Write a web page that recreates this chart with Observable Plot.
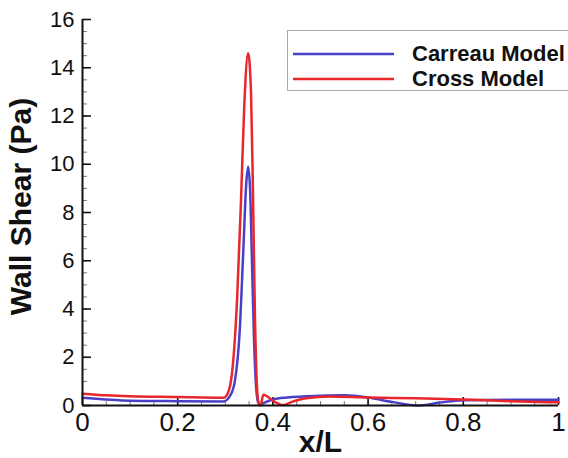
<!DOCTYPE html>
<html>
<head>
<meta charset="utf-8">
<script src="https://cdn.jsdelivr.net/npm/d3@7"></script>
<script src="https://cdn.jsdelivr.net/npm/@observablehq/plot@0.6"></script>
<style>
  html, body { margin: 0; padding: 0; background: #fff; overflow: hidden; }
  #wrap { position: relative; width: 568px; height: 458px; }
  #legend { position: absolute; left: 287px; top: 30px; width: 300px; height: 61px;
    border: 1.5px solid #aaa; box-sizing: border-box; background: #fff;
    font-family: "Liberation Sans", Arial, sans-serif; font-weight: bold; font-size: 22px; color: #111; }
  .row { position: absolute; left: 0; display: flex; align-items: center; }
  .row svg { margin-left: 5px; }
  .row span { margin-left: 18px; }
</style>
</head>
<body>
<div id="wrap"></div>
<script>
const seriesNames = ["Carreau Model", "Cross Model"];
const seriesColors = ["#4a40c8", "#e8262b"];

const carreauX = [0, 0.05, 0.1, 0.2, 0.296, 0.31, 0.32, 0.33, 0.338, 0.344, 0.348, 0.352, 0.356, 0.36, 0.364, 0.368, 0.372, 0.38, 0.40, 0.43, 0.5, 0.55, 0.6, 0.65, 0.705, 0.75, 0.8, 0.9, 1.0];
const carreauY = [0.32, 0.25, 0.2, 0.18, 0.17, 0.4, 1.0, 3.0, 6.5, 9.2, 9.9, 9.0, 6.0, 3.0, 1.0, 0.2, 0.02, 0.1, 0.25, 0.33, 0.4, 0.42, 0.33, 0.15, 0.0, 0.12, 0.22, 0.24, 0.24];

const crossX = [0, 0.05, 0.1, 0.2, 0.296, 0.305, 0.315, 0.325, 0.333, 0.34, 0.348, 0.354, 0.358, 0.362, 0.366, 0.370, 0.374, 0.380, 0.39, 0.40, 0.422, 0.44, 0.47, 0.52, 0.6, 0.7, 0.8, 0.9, 1.0];
const crossY = [0.49, 0.42, 0.38, 0.35, 0.32, 0.5, 1.5, 4.5, 8.5, 12.5, 14.6, 13.0, 9.0, 4.0, 1.0, 0.1, 0.0, 0.45, 0.35, 0.2, 0.02, 0.15, 0.3, 0.37, 0.33, 0.3, 0.25, 0.18, 0.13];

const xMajor = [0, 0.2, 0.4, 0.6, 0.8, 1];
const xMinor = d3.range(0, 1.0001, 0.05).map(v => +v.toFixed(2));
const yMajor = [0, 2, 4, 6, 8, 10, 12, 14, 16];
const yMinor = d3.range(0, 16.0001, 0.5);

const W = 568, H = 458;
const mL = 82, mR = 10, mT = 19, mB = 53;
const pw = W - mL - mR, ph = H - mT - mB;

const carreau = carreauX.map((x, i) => ({x, y: carreauY[i], s: seriesNames[0]}));
const cross = crossX.map((x, i) => ({x, y: crossY[i], s: seriesNames[1]}));

const font = "'Liberation Sans', Arial, sans-serif";

const chart = Plot.plot({
  width: W, height: H,
  marginLeft: mL, marginRight: mR, marginTop: mT, marginBottom: mB,
  style: {fontFamily: font, background: "#fff", color: "#111"},
  x: {domain: [0, 1]},
  y: {domain: [0, 16]},
  marks: [
    // minor ticks
    Plot.tickY(yMinor, {y: d => d, insetRight: pw - 5, stroke: "#777", strokeWidth: 1}),
    Plot.tickX(xMinor, {x: d => d, insetTop: ph - 4, stroke: "#777", strokeWidth: 1}),
    // major ticks
    Plot.tickY(yMajor, {y: d => d, insetRight: pw - 9, stroke: "#111", strokeWidth: 1.6}),
    Plot.tickX(xMajor, {x: d => d, insetTop: ph - 8, stroke: "#111", strokeWidth: 1.6}),
    Plot.axisY({ticks: yMajor, tickSize: 0, tickPadding: 8, fontSize: 22, label: null}),
    Plot.axisX({ticks: xMajor, tickSize: 0, tickPadding: 7, fontSize: 26, label: null, tickFormat: d3.format("~g")}),
    Plot.line(carreau, {x: "x", y: "y", stroke: seriesColors[0], strokeWidth: 2.5, curve: "monotone-x"}),
    Plot.line(cross, {x: "x", y: "y", stroke: seriesColors[1], strokeWidth: 2.5, curve: "monotone-x"}),
    Plot.ruleX([0], {stroke: "#111", strokeWidth: 2}),
    Plot.ruleY([0], {stroke: "#111", strokeWidth: 2}),
    Plot.text(["Wall Shear (Pa)"], {frameAnchor: "left", textAnchor: "middle", lineAnchor: "middle", rotate: -90, dx: -61, dy: -6, fontSize: 30, fontWeight: "bold", fill: "#111"}),
    Plot.text(["x/L"], {frameAnchor: "bottom", textAnchor: "middle", lineAnchor: "bottom", dy: 46, fontSize: 30, fontWeight: "bold", fill: "#111"})
  ]
});

const wrap = document.getElementById("wrap");
wrap.appendChild(chart);

const legend = document.createElement("div");
legend.id = "legend";
const rowsTop = [10, 35];
seriesNames.forEach((name, i) => {
  const row = document.createElement("div");
  row.className = "row";
  row.style.top = rowsTop[i] + "px";
  row.innerHTML = `<svg width="101" height="14"><line x1="0" x2="101" y1="7" y2="7" stroke="${seriesColors[i]}" stroke-width="2.5"/></svg><span>${name}</span>`;
  legend.appendChild(row);
});
wrap.appendChild(legend);
</script>
</body>
</html>
